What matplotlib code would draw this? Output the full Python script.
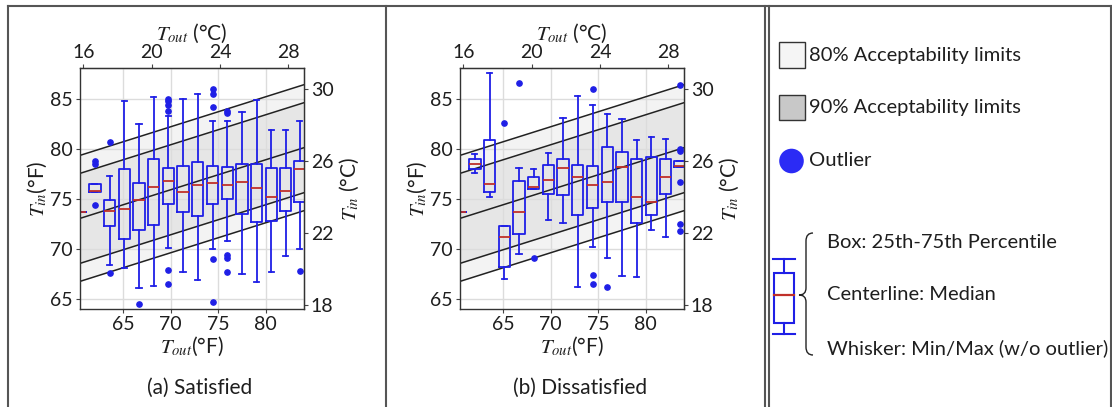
import matplotlib
matplotlib.use("Agg")
import matplotlib.pyplot as plt
from matplotlib.patches import Rectangle, Circle, PathPatch
from matplotlib.path import Path
from matplotlib.lines import Line2D

plt.rcParams['font.family'] = ['Lato', 'DejaVu Sans']
plt.rcParams['mathtext.fontset'] = 'stix'

# ---------------- data ----------------
positions = [60.5, 62.0, 63.55, 65.1, 66.65, 68.2, 69.75, 71.3, 72.85, 74.4,
             75.95, 77.5, 79.05, 80.6, 82.1, 83.6]

# (a) Satisfied
sat_med = [73.7, 75.85, 73.8, 74.0, 74.9, 76.17, 76.83, 75.68, 76.44, 76.57,
           76.4, 76.67, 76.1, 75.25, 75.84, 77.99]
sat_q1 = [73.7, 75.75, 72.27, 71.05, 71.94, 72.37, 74.52, 73.7, 73.33, 74.52,
          74.98, 73.53, 72.7, 72.77, 73.76, 74.75]
sat_q3 = [73.7, 76.5, 74.92, 77.99, 76.57, 79.05, 78.06, 78.29, 78.65, 78.32,
          78.22, 78.49, 78.45, 78.12, 78.12, 78.78]
sat_lo = [73.7, 75.75, 68.4, 68.07, 66.06, 66.29, 70.06, 67.74, 66.92, 70.02,
          70.85, 67.48, 66.75, 67.71, 69.3, 69.96]
sat_hi = [73.7, 76.5, 77.33, 84.77, 82.52, 85.17, 83.28, 85.0, 85.46, 82.85,
          82.85, 83.68, 84.9, 81.86, 81.86, 82.85]
sat_fliers = [[], [78.78, 78.55, 74.36], [80.7, 67.58], [], [64.5], [],
              [85.0, 84.77, 84.4, 83.78, 67.9, 66.55], [], [],
              [85.99, 85.5, 84.24, 68.97, 64.74], [83.78, 83.6, 69.36, 69.1, 67.74],
              [], [], [], [], [67.81]]

# (b) Dissatisfied
dis_med = [73.66, 78.45, 76.54, 71.21, 73.69, 76.21, 76.93, 78.06, 77.23, 76.37,
           76.7, 78.16, 75.15, 74.72, 77.23, 78.29]
dis_q1 = [73.66, 77.96, 75.68, 68.24, 71.51, 75.98, 75.48, 75.38, 73.43, 74.09,
          74.69, 74.65, 72.6, 73.43, 75.51, 78.22]
dis_q3 = [73.66, 78.95, 80.87, 72.27, 76.83, 77.23, 78.39, 79.05, 78.39, 78.29,
          80.21, 79.71, 78.95, 79.21, 79.05, 78.78]
dis_lo = [73.66, 77.56, 75.15, 66.98, 69.46, 75.98, 72.87, 72.6, 66.16, 70.16,
          69.07, 67.31, 67.15, 71.94, 71.18, 78.22]
dis_hi = [73.66, 79.45, 87.64, 72.27, 78.12, 77.99, 79.64, 83.12, 85.26, 84.4,
          83.45, 83.02, 80.87, 81.2, 81.0, 78.78]
dis_fliers = [[], [], [], [82.62], [86.59], [69.1], [], [], [],
              [85.99, 67.41, 66.55], [66.22], [], [], [], [],
              [86.42, 79.98, 79.81, 76.67, 72.54, 71.84]]

# adaptive comfort band (neutral line endpoints, offsets in °F)
band_tout = [60.4, 84.1]
neutral_tin = [73.05, 80.15]
limit80 = 6.3
limit90 = 4.5

xticks_f = [65, 70, 75, 80]
yticks_f = [65, 70, 75, 80, 85]
xticks_c = [16, 20, 24, 28]
yticks_c = [18, 22, 26, 30]

captions = ['(a) Satisfied', '(b) Dissatisfied']

# ---------------- figure ----------------
W, H = 1112, 407
fig = plt.figure(figsize=(W / 100, H / 100), dpi=100)

BLUE = '#1f1fe6'
RED = '#c0302a'
FS = 14
FSL = 14.5
FSC = 15
TXT = '#1e1e1e'


def f2c(f):
    return (f - 32) / 1.8


def c2f(c):
    return c * 1.8 + 32


def draw_panel(left_px, med, q1, q3, lo, hi, fliers, caption):
    ax = fig.add_axes([left_px / W, 1 - 309 / H, 224 / W, 241 / H])
    ax.set_xlim(60.44, 84.04)
    ax.set_ylim(64.0, 88.1)
    up80 = [v + limit80 for v in neutral_tin]
    dn80 = [v - limit80 for v in neutral_tin]
    up90 = [v + limit90 for v in neutral_tin]
    dn90 = [v - limit90 for v in neutral_tin]
    ax.fill_between(band_tout, dn80, up80, color='#f3f3f3', zorder=0.2, lw=0)
    ax.fill_between(band_tout, dn90, up90, color='#e6e6e6', zorder=0.3, lw=0)
    for ys in (up80, up90, neutral_tin, dn90, dn80):
        ax.plot(band_tout, ys, color='#222222', lw=1.1, zorder=1.5)
    ax.grid(True, color='#dcdcdc', lw=1.0, zorder=0.6)
    ax.set_axisbelow(True)
    stats = []
    for i in range(len(positions)):
        stats.append(dict(med=med[i], q1=q1[i], q3=q3[i], whislo=lo[i],
                          whishi=hi[i], fliers=fliers[i]))
    ax.bxp(stats, positions=positions, widths=1.2, capwidths=0.55,
           patch_artist=False, manage_ticks=False,
           boxprops=dict(color=BLUE, lw=1.3),
           whiskerprops=dict(color=BLUE, lw=1.3),
           capprops=dict(color=BLUE, lw=1.3),
           medianprops=dict(color=RED, lw=1.3),
           flierprops=dict(marker='o', markerfacecolor=BLUE,
                           markeredgecolor=BLUE, markersize=3.8))
    ax.set_xticks(xticks_f)
    ax.set_yticks(yticks_f)
    ax.tick_params(labelsize=FS, length=3, pad=2, color='#444444', labelcolor=TXT)
    for s in ax.spines.values():
        s.set_color('#333333')
        s.set_linewidth(1.0)
    ax.set_xlabel(r'$T_{out}$(°F)', fontsize=FS + 1, labelpad=1, color=TXT)
    ax.set_ylabel(r'$T_{in}$(°F)', fontsize=FS + 1, labelpad=1, color=TXT)
    top = ax.secondary_xaxis('top', functions=(f2c, c2f))
    top.set_xticks(xticks_c)
    top.tick_params(labelsize=FS, length=3, pad=2, color='#444444', labelcolor=TXT)
    top.set_xlabel(r'$T_{out}$ (°C)', fontsize=FS + 1, labelpad=3, color=TXT)
    right = ax.secondary_yaxis('right', functions=(f2c, c2f))
    right.set_yticks(yticks_c)
    right.tick_params(labelsize=FS, length=3, pad=2, color='#444444', labelcolor=TXT)
    right.set_ylabel(r'$T_{in}$ (°C)', fontsize=FS + 1, labelpad=3, color=TXT)
    fig.text((left_px + 120) / W, 1 - 388 / H, caption, fontsize=FSC,
             ha='center', va='center', color=TXT)
    return ax


draw_panel(80, sat_med, sat_q1, sat_q3, sat_lo, sat_hi, sat_fliers, captions[0])
draw_panel(460, dis_med, dis_q1, dis_q3, dis_lo, dis_hi, dis_fliers, captions[1])

# overlay in pixel coordinates for frames and legend
ov = fig.add_axes([0, 0, 1, 1], zorder=-1)
ov.set_xlim(0, W)
ov.set_ylim(H, 0)
ov.axis('off')

frame_c = '#555555'
for xs, ys in [([7.5, 1111], [5.5, 5.5]), ([7.5, 7.5], [5.5, 407]),
               ([386, 386], [5.5, 407]), ([765, 765], [5.5, 407]),
               ([768.5, 768.5], [5.5, 407]), ([1111, 1111], [5.5, 407])]:
    ov.add_line(Line2D(xs, ys, color=frame_c, lw=1.5))

# legend
ov.add_patch(Rectangle((779, 42), 26, 26, facecolor='#f5f5f5', edgecolor='#333333', lw=1))
ov.text(809, 55, '80% Acceptability limits', fontsize=FSL, va='center', ha='left', color=TXT)
ov.add_patch(Rectangle((779, 94.5), 26, 25, facecolor='#c8c8c8', edgecolor='#333333', lw=1))
ov.text(809, 107, '90% Acceptability limits', fontsize=FSL, va='center', ha='left', color=TXT)
ov.add_patch(Circle((791.5, 161), 12.3, facecolor='#2b2bf5', edgecolor='none'))
ov.text(809, 161, 'Outlier', fontsize=FSL, va='center', ha='left', color=TXT)

# box glyph
bx0, bx1 = 774.3, 794.3
cx = 784.3
ov.add_line(Line2D([773, 794.5], [259.3, 259.3], color=BLUE, lw=1.5))
ov.add_line(Line2D([773, 794.5], [334, 334], color=BLUE, lw=1.5))
ov.add_line(Line2D([cx, cx], [259.3, 272.7], color=BLUE, lw=1.5))
ov.add_line(Line2D([cx, cx], [323.3, 334], color=BLUE, lw=1.5))
ov.add_patch(Rectangle((bx0, 272.7), bx1 - bx0, 50.6, facecolor='white', edgecolor=BLUE, lw=1.5))
ov.add_line(Line2D([bx0, bx1], [295.3, 295.3], color=RED, lw=1.6))

# curly brace
verts = [(813, 233), (806, 233), (806, 241),
         (806, 288),
         (806, 295), (799, 295),
         (806, 295), (806, 302),
         (806, 347),
         (806, 355), (813, 355)]
codes = [Path.MOVETO, Path.CURVE3, Path.CURVE3,
         Path.LINETO,
         Path.CURVE3, Path.CURVE3,
         Path.CURVE3, Path.CURVE3,
         Path.LINETO,
         Path.CURVE3, Path.CURVE3]
ov.add_patch(PathPatch(Path(verts, codes), facecolor='none', edgecolor='#222222', lw=1.0))

ov.text(826.7, 243, 'Box: 25th-75th Percentile', fontsize=FSL, va='center', ha='left', color=TXT)
ov.text(826.7, 295, 'Centerline: Median', fontsize=FSL, va='center', ha='left', color=TXT)
ov.text(826.7, 348, 'Whisker: Min/Max (w/o outlier)', fontsize=FSL, va='center', ha='left', color=TXT)

fig.savefig('out.png', dpi=100)
